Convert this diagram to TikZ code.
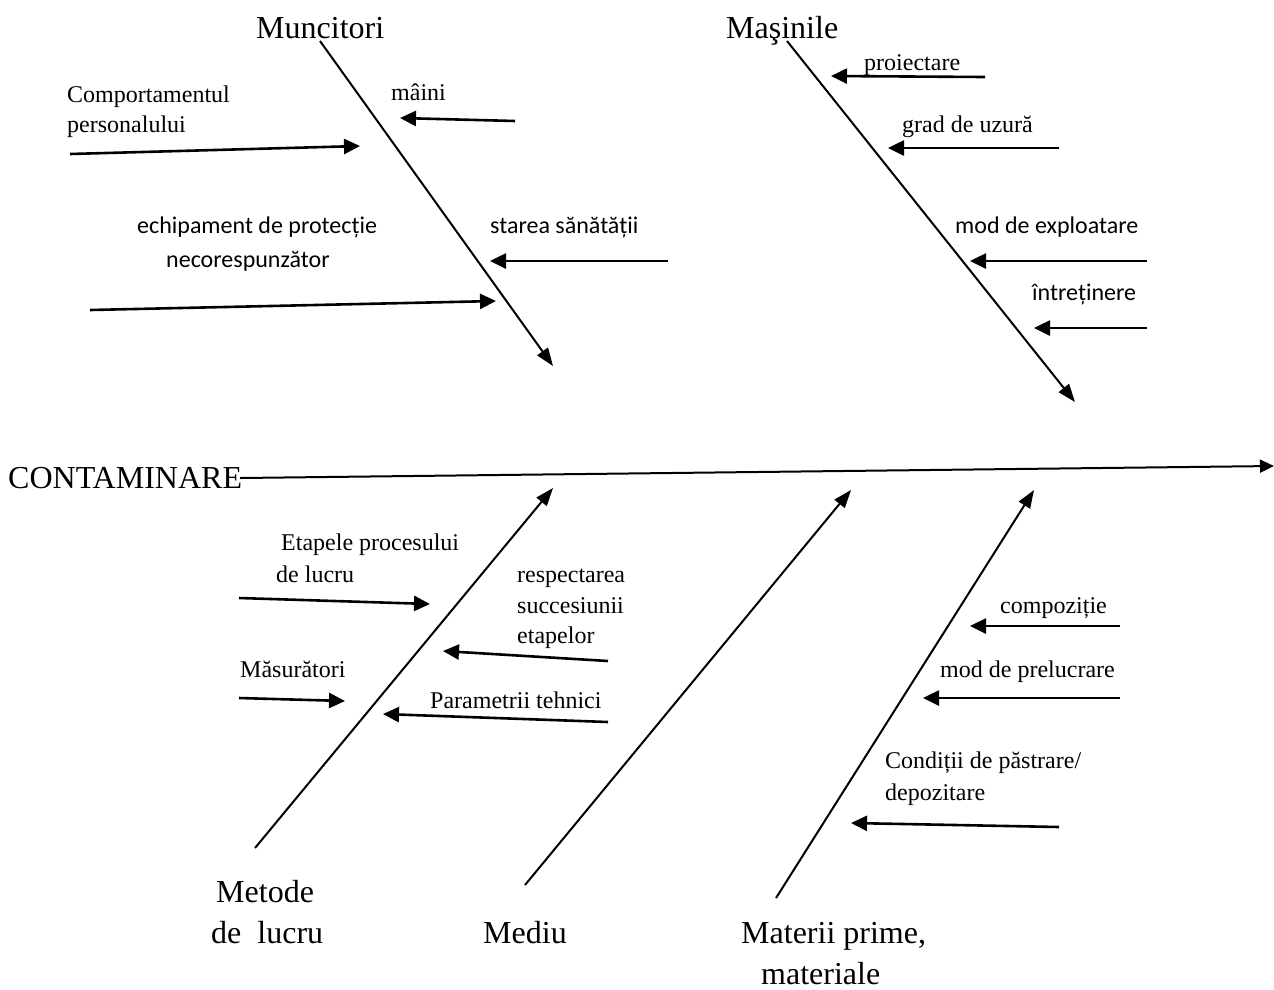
\documentclass[tikz,border=0pt]{standalone}
\usepackage{fontspec}
\setmainfont{Liberation Serif}
\newfontfamily\calib{Carlito}
\usetikzlibrary{arrows.meta}

\begin{document}
\begin{tikzpicture}[x=1pt,y=-1pt,
  bone/.style={line width=2pt,-{Triangle[length=18pt,width=13pt]}},
  twig/.style={line width=2.6pt,-{Triangle[length=16pt,width=15pt]}},
  big/.style={font=\fontsize{32}{38}\selectfont,inner sep=0,anchor=base west},
  lbl/.style={font=\fontsize{24}{30}\selectfont,inner sep=0,anchor=base west},
  lblc/.style={font=\calib\fontsize{24}{30}\selectfont,inner sep=0,anchor=base west},
]
\useasboundingbox (0,0) rectangle (1274,989);

% spine
\node[big] (effect) at (8,488) {CONTAMINARE};
\coordinate (spineA) at (240,478);
\coordinate (spineB) at (1274,466);
\draw[line width=2pt,-{Triangle[length=14pt,width=13pt]}] (spineA) -- (spineB);

% category labels
\node[big] (muncitori) at (256,38) {Muncitori};
\node[big] (masinile) at (726,38) {Maşinile};
\node[big] (metode1) at (216,902) {Metode};
\node[big] (metode2) at (211,943) {de\ \ lucru};
\node[big] (mediu) at (483,943) {Mediu};
\node[big] (materii1) at (741,943) {Materii prime,};
\node[big] (materii2) at (761,984) {materiale};

% main bones
\coordinate (bMa) at (320,41);  \coordinate (bMb) at (553,366);
\coordinate (bSa) at (787,41);  \coordinate (bSb) at (1075,402);
\coordinate (bLa) at (255,848); \coordinate (bLb) at (553,488);
\coordinate (bEa) at (525,885); \coordinate (bEb) at (851,490);
\coordinate (bPa) at (776,898); \coordinate (bPb) at (1034,490);
\draw[bone] (bMa) -- (bMb);
\draw[bone] (bSa) -- (bSb);
\draw[bone] (bLa) -- (bLb);
\draw[bone] (bEa) -- (bEb);
\draw[bone] (bPa) -- (bPb);

% Muncitori causes
\node[lbl] (c1a) at (67,102) {Comportamentul};
\node[lbl] (c1b) at (67,132) {personalului};
\coordinate (t1a) at (70,154); \coordinate (t1b) at (360,146);
\draw[twig] (t1a) -- (t1b);
\node[lbl] (c2) at (391,100) {mâini};
\coordinate (t2a) at (515,121); \coordinate (t2b) at (400,118);
\draw[twig] (t2a) -- (t2b);
\node[lblc] (c3a) at (137,233) {echipament de protecție};
\node[lblc] (c3b) at (166,267) {necorespunzător};
\coordinate (t3a) at (90,310); \coordinate (t3b) at (496,301);
\draw[twig] (t3a) -- (t3b);
\node[lblc] (c4) at (490,233) {starea sănătății};
\coordinate (t4a) at (668,261); \coordinate (t4b) at (490,261);
\draw[twig] (t4a) -- (t4b);

% Masinile causes
\node[lbl] (c5) at (864,70) {proiectare};
\coordinate (t5a) at (985,77); \coordinate (t5b) at (831,76);
\draw[twig] (t5a) -- (t5b);
\node[lbl] (c6) at (902,132) {grad de uzură};
\coordinate (t6a) at (1059,148); \coordinate (t6b) at (888,148);
\draw[twig] (t6a) -- (t6b);
\node[lblc] (c7) at (955,233) {mod de exploatare};
\coordinate (t7a) at (1147,261); \coordinate (t7b) at (970,261);
\draw[twig] (t7a) -- (t7b);
\node[lblc] (c8) at (1032,300) {întreținere};
\coordinate (t8a) at (1147,328); \coordinate (t8b) at (1034,328);
\draw[twig] (t8a) -- (t8b);

% Metode de lucru causes
\node[lbl] (c9a) at (281,550) {Etapele procesului};
\node[lbl] (c9b) at (276,582) {de lucru};
\coordinate (t9a) at (239,598); \coordinate (t9b) at (430,604);
\draw[twig] (t9a) -- (t9b);
\node[lbl] (c10a) at (517,582) {respectarea};
\node[lbl] (c10b) at (517,613) {succesiunii};
\node[lbl] (c10c) at (517,643) {etapelor};
\coordinate (t10a) at (608,661); \coordinate (t10b) at (443,651);
\draw[twig] (t10a) -- (t10b);
\node[lbl] (c11) at (240,677) {Măsurători};
\coordinate (t11a) at (239,698); \coordinate (t11b) at (345,701);
\draw[twig] (t11a) -- (t11b);
\node[lbl] (c12) at (430,708) {Parametrii tehnici};
\coordinate (t12a) at (608,722); \coordinate (t12b) at (383,714);
\draw[twig] (t12a) -- (t12b);

% Materii prime causes
\node[lbl] (c13) at (1000,613) {compoziție};
\coordinate (t13a) at (1120,626); \coordinate (t13b) at (970,626);
\draw[twig] (t13a) -- (t13b);
\node[lbl] (c14) at (940,677) {mod de prelucrare};
\coordinate (t14a) at (1120,698); \coordinate (t14b) at (923,698);
\draw[twig] (t14a) -- (t14b);
\node[lbl] (c15a) at (885,768) {Condiții de păstrare/};
\node[lbl] (c15b) at (885,800) {depozitare};
\coordinate (t15a) at (1059,827); \coordinate (t15b) at (851,823);
\draw[twig] (t15a) -- (t15b);
\end{tikzpicture}
\end{document}
